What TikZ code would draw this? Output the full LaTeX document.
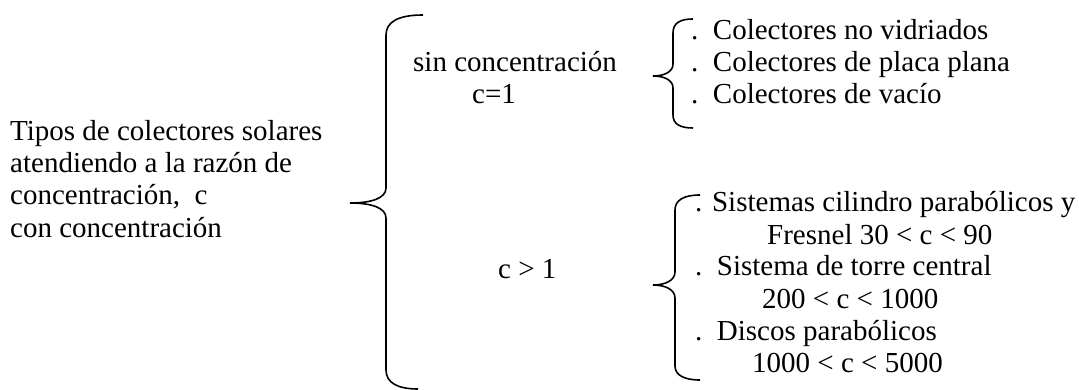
\documentclass[tikz,border=0pt]{standalone}
\usepackage{fontspec}
\setmainfont{Liberation Serif}
\usepackage{tikz}
\usetikzlibrary{positioning}
\tikzset{
  entry/.style={
    anchor=base west,
    inner sep=0pt,
    font=\fontsize{29}{32}\selectfont
  },
  bracepath/.style={line width=1.6pt, draw=black}
}

\begin{document}
\begin{tikzpicture}[x=1pt, y=-1pt]
\useasboundingbox (0,0) rectangle (1079,390);
\node[entry] (tipos) at (10,141) {Tipos de colectores solares};
\node[entry] (razon) at (10,173) {atendiendo a la razón de};
\node[entry] (concc) at (10,205) {concentración,\ \ c};
\node[entry] (conconc) at (10,237) {con concentración};
\node[entry] (sinconc) at (413,72) {sin concentración};
\node[entry] (ceq) at (472,104) {c=1};
\node[entry] (cgt) at (498,278) {c > 1};
\node[entry] (novidr) at (691,40) {.\ \ Colectores no vidriados};
\node[entry] (placa) at (691,72) {.\ \ Colectores de placa plana};
\node[entry] (vacio) at (691,104) {.\ \ Colectores de vacío};
\node[entry] (cilindro) at (695,212) {. Sistemas cilindro parabólicos y};
\node[entry] (fresnel) at (767,244) {Fresnel 30 < c < 90};
\node[entry] (torre) at (695,276) {.\ \ Sistema de torre central};
\node[entry] (torrec) at (762,308) {200 < c < 1000};
\node[entry] (discos) at (695,340) {.\ \ Discos parabólicos};
\node[entry] (discosc) at (752,372) {1000 < c < 5000};
% llaves
\draw[bracepath] (423,15) .. controls (398,15) and (386,22) .. (386,35) -- (386,188)
  .. controls (386,198) and (372,203) .. (350,203) .. controls (372,203) and (386,208) .. (386,218)
  -- (386,370) .. controls (386,383) and (398,389) .. (418,389);
\draw[bracepath] (693,19) .. controls (680,19) and (673,23) .. (673,33) -- (673,64)
  .. controls (673,72) and (664,76) .. (653,76) .. controls (664,76) and (673,80) .. (673,88)
  -- (673,115) .. controls (673,124) and (680,128) .. (693,128);
\draw[bracepath] (700,195) .. controls (684,195) and (675,200) .. (675,210) -- (675,272)
  .. controls (675,280) and (666,285) .. (653,285) .. controls (666,285) and (675,290) .. (675,298)
  -- (675,366) .. controls (675,375) and (684,380) .. (700,380);
\end{tikzpicture}
\end{document}
